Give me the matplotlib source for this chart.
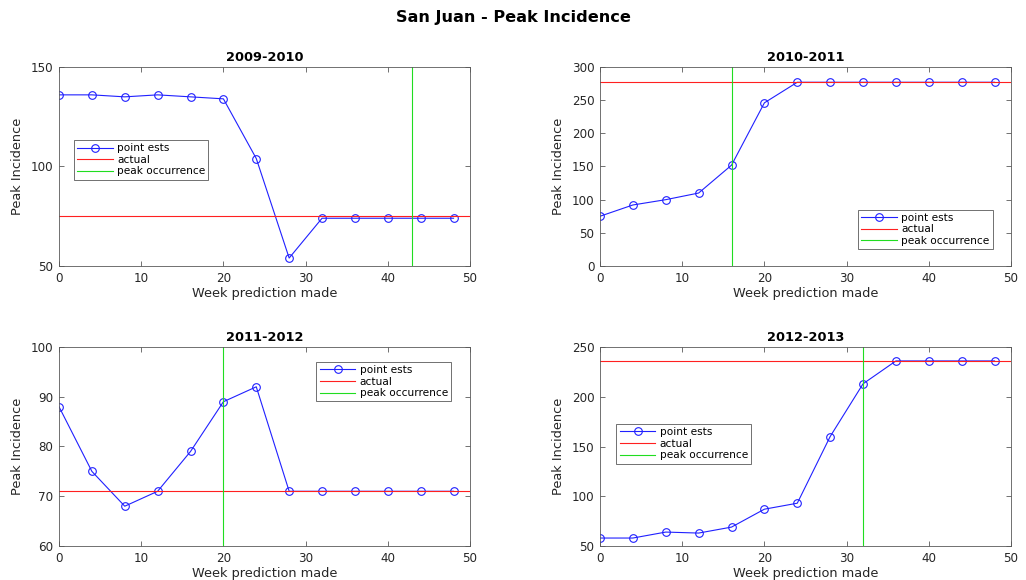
import numpy as np
import matplotlib.pyplot as plt

# Данные
weeks = np.arange(0, 49, 4)
seasons = ["2009-2010", "2010-2011", "2011-2012", "2012-2013"]
est_0910 = [136, 136, 135, 136, 135, 134, 104, 54, 74, 74, 74, 74, 74]
est_1011 = [75, 92, 100, 110, 152, 246, 277, 277, 277, 277, 277, 277, 277]
est_1112 = [88, 75, 68, 71, 79, 89, 92, 71, 71, 71, 71, 71, 71]
est_1213 = [58, 58, 64, 63, 69, 87, 93, 160, 213, 236, 236, 236, 236]
actual = [75, 277, 71, 236]
peak_week = [43, 16, 20, 32]
ylims = [(50, 150), (0, 300), (60, 100), (50, 250)]
yticks = [[50, 100, 150], np.arange(0, 301, 50), np.arange(60, 101, 10), np.arange(50, 251, 50)]
estimates = [est_0910, est_1011, est_1112, est_1213]

# расположение осей и легенд (в пикселях / долях осей)
W, H = 1026, 580
axes_px = [(59, 67), (600, 67), (59, 347), (600, 347)]
ax_w, ax_h = 411, 199
legend_anchor = [("upper left", (0.036, 0.633)), ("lower right", (0.956, 0.085)),
                 ("upper right", (0.954, 0.925)), ("upper left", (0.04, 0.613))]

gray = (0.15, 0.15, 0.15)
spine = (0.35, 0.35, 0.35)
fig = plt.figure(figsize=(W / 100, H / 100), dpi=100)
fig.suptitle("San Juan - Peak Incidence", fontsize=11.6, fontweight="bold", y=0.983)

for i in range(4):
    x0, y0 = axes_px[i]
    ax = fig.add_axes([x0 / W, 1 - (y0 + ax_h) / H, ax_w / W, ax_h / H])
    ax.plot(weeks, estimates[i], "-o", color="#2020ff", lw=0.8, mfc="none", ms=5.5, mew=0.8,
            label="point ests")
    ax.axhline(actual[i], color="#ff2020", lw=0.8, label="actual")
    ax.axvline(peak_week[i], color="#20dd20", lw=0.8, label="peak occurrence")
    ax.set_xlim(0, 50)
    ax.set_ylim(*ylims[i])
    ax.set_yticks(yticks[i])
    ax.set_xticks(np.arange(0, 51, 10))
    ax.set_title(seasons[i], fontsize=9.3, fontweight="bold", pad=4)
    ax.set_xlabel("Week prediction made", fontsize=9.3, color=gray, labelpad=2)
    ax.set_ylabel("Peak Incidence", fontsize=9.3, color=gray, labelpad=5)
    ax.tick_params(direction="in", top=True, right=True, labelsize=8.6, colors=spine,
                   labelcolor=gray, length=3.5, width=0.6, pad=4)
    for s in ax.spines.values():
        s.set_color(spine)
        s.set_linewidth(0.6)
    loc, anchor = legend_anchor[i]
    leg = ax.legend(loc=loc, bbox_to_anchor=anchor, fontsize=7.6, fancybox=False,
                    framealpha=1, edgecolor=spine, borderpad=0.3, labelspacing=0.15,
                    handlelength=3.4, handletextpad=0.4, borderaxespad=0)
    leg.get_frame().set_linewidth(0.6)

plt.savefig("out.png", dpi=100)
